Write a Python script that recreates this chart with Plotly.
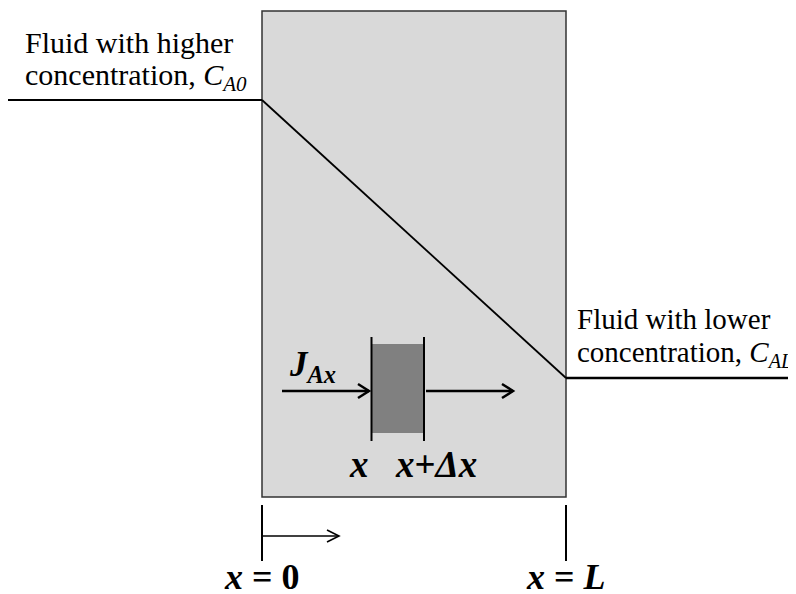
import plotly.graph_objects as go

# ---- data ----
face_positions = [0.0, 1.0]          # x / L at the two faces of the slab
face_concentrations = [1.0, 0.0]     # C_A / C_A0 at the faces (C_A0 -> C_AL)
face_labels = ["<b><i>x</i> = 0</b>", "<b><i>x</i> = <i>L</i></b>"]
fluid_left_lines = ["Fluid with higher", "concentration, <i>C<sub>A0</sub></i>"]
fluid_right_lines = ["Fluid with lower", "concentration, <i>C<sub>AL</sub></i>"]
element_labels = ["<b><i>x</i></b>", "<b><i>x</i>+<i>Δx</i></b>"]
flux_label = "<b><i>J<sub>Ax</sub></i></b>"

# ---- calibration (screen pixels of the 796x594 window; page body has an 8px margin) ----
OFF = 8
W, H = 796 - OFF, 594 - OFF
X0_PX, L_PX = 262, 304
C1_PY, C0_PY = 100, 378


def X(px):
    return (px - X0_PX) / L_PX


def Y(py):
    return (C0_PY - py) / (C0_PY - C1_PY)


FONT = "Liberation Serif"
fig = go.Figure()
shapes = []
ann = []

# slab
shapes.append(dict(type="rect", x0=X(262), x1=X(566), y0=Y(11), y1=Y(497),
                   fillcolor="#d9d9d9", line=dict(color="#333333", width=1.5), layer="below"))
# differential element
shapes.append(dict(type="rect", x0=X(372), x1=X(424), y0=Y(344), y1=Y(433),
                   fillcolor="#808080", line=dict(width=0), layer="below"))
for xp in (371.5, 424):
    shapes.append(dict(type="line", x0=X(xp), x1=X(xp), y0=Y(337), y1=Y(441),
                       line=dict(color="black", width=2)))


def arrow(x0, x1, yp, w, hl, hw):
    shapes.append(dict(type="line", x0=X(x0), x1=X(x1), y0=Y(yp), y1=Y(yp),
                       line=dict(color="black", width=w)))
    shapes.append(dict(type="path",
                       path=f"M {X(x1-hl)},{Y(yp-hw)} L {X(x1)},{Y(yp)} L {X(x1-hl)},{Y(yp+hw)}",
                       line=dict(color="black", width=w)))


arrow(282, 369, 391, 2.5, 11, 7)
arrow(426, 513, 391, 2.5, 11, 7)
arrow(263, 339, 536, 1.6, 12, 6)

# face ticks at bottom
for xp in (262, 566):
    shapes.append(dict(type="line", x0=X(xp), x1=X(xp), y0=Y(505), y1=Y(561),
                       line=dict(color="black", width=2)))

# concentration profile inside the slab
fig.add_trace(go.Scatter(x=face_positions, y=face_concentrations, mode="lines",
                         line=dict(color="black", width=1.8), hoverinfo="skip"))
# fluid levels outside
fig.add_trace(go.Scatter(x=[X(8), face_positions[0]], y=[face_concentrations[0]] * 2,
                         mode="lines", line=dict(color="black", width=2), hoverinfo="skip"))
fig.add_trace(go.Scatter(x=[face_positions[1], X(800)], y=[face_concentrations[1]] * 2,
                         mode="lines", line=dict(color="black", width=2.6), hoverinfo="skip"))

# texts
for i, t in enumerate(fluid_left_lines):
    ann.append(dict(x=X(23), y=Y(42 + 35 * i), text=t, xanchor="left", yanchor="middle",
                    font=dict(family=FONT, size=30, color="black")))
for i, t in enumerate(fluid_right_lines):
    ann.append(dict(x=X(575), y=Y(319 + 35 * i), text=t, xanchor="left", yanchor="middle",
                    font=dict(family=FONT, size=29, color="black")))

ann.append(dict(x=X(287), y=Y(366), text=flux_label, xanchor="left", yanchor="middle",
                font=dict(family=FONT, size=35, color="black")))
ann.append(dict(x=X(359), y=Y(464), text=element_labels[0], xanchor="center", yanchor="middle",
                font=dict(family=FONT, size=37, color="black")))
ann.append(dict(x=X(436), y=Y(464), text=element_labels[1], xanchor="center", yanchor="middle",
                font=dict(family=FONT, size=37, color="black")))

for xp, lab in zip(face_positions, face_labels):
    ann.append(dict(x=xp, y=Y(577), text=lab, xanchor="center", yanchor="middle",
                    font=dict(family=FONT, size=36, color="black")))

for a in ann:
    a.update(xref="x", yref="y", showarrow=False)

fig.update_layout(
    width=W, height=H, margin=dict(l=0, r=0, t=0, b=0),
    paper_bgcolor="white", plot_bgcolor="white", showlegend=False,
    shapes=shapes, annotations=ann,
    xaxis=dict(range=[X(OFF), X(OFF + W)], visible=False, fixedrange=True),
    yaxis=dict(range=[Y(OFF + H), Y(OFF)], visible=False, fixedrange=True),
)
fig.write_html("out.html")
